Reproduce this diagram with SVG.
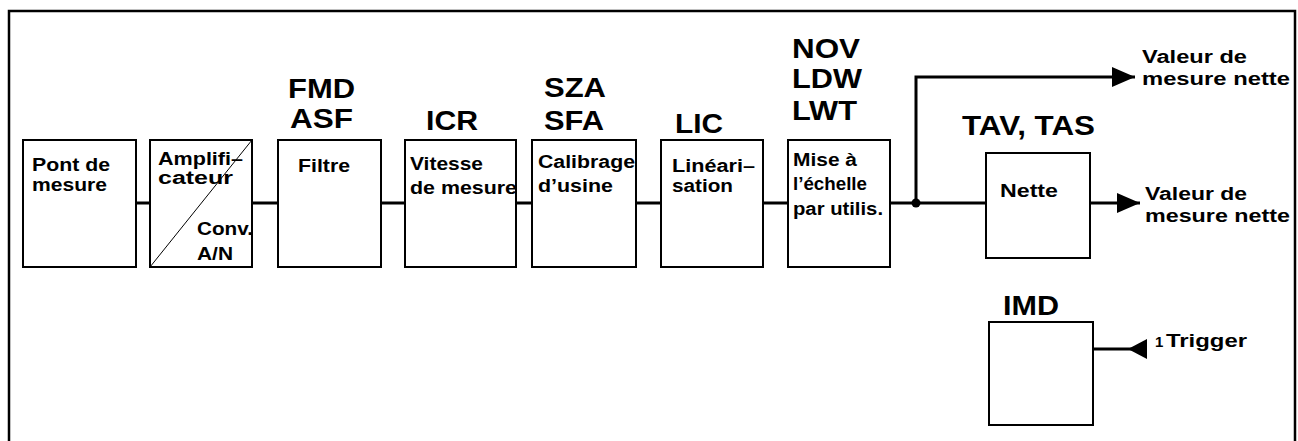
<svg xmlns="http://www.w3.org/2000/svg" width="1298" height="441" viewBox="0 0 1298 441">
<style>
text{font-family:"Liberation Sans",Arial,sans-serif;font-weight:bold;fill:#000}
.b{font-size:18px}
.h{font-size:27px}
.box{fill:#fff;stroke:#000;stroke-width:2}
.wire{fill:none;stroke:#000;stroke-width:3}
</style>
<defs>
<marker id="arr" markerUnits="userSpaceOnUse" markerWidth="26" markerHeight="22" refX="23" refY="10" orient="auto"><path d="M0,0 L23,10 L0,20 z" fill="#000"/></marker>
<marker id="arrS" markerUnits="userSpaceOnUse" markerWidth="24" markerHeight="22" refX="0" refY="10" orient="auto"><path d="M0,0 L19,10 L0,20 z" fill="#000"/></marker>
</defs>
<rect x="0" y="0" width="1298" height="441" fill="#fff"/>
<path d="M9,441 V11 H1295 V441" fill="none" stroke="#000" stroke-width="2.5"/>
<g id="connectors">
<path class="wire" d="M136,203 H150 M252,203 H278 M381,203 H405 M516,203 H532 M636,203 H661 M763,203 H788"/>
<path class="wire" d="M890,203 H986"/>
<path class="wire" d="M916,203 V77 H1135" marker-end="url(#arr)"/>
<path class="wire" d="M1090,203 H1140" marker-end="url(#arr)"/>
<path class="wire" d="M1147,349 H1093" marker-start="url(#arrS)"/>
<circle cx="916" cy="203" r="4.5" fill="#000"/>
</g>
<g id="pont">
<rect class="box" x="23" y="140" width="113" height="127"/>
<text class="b" x="32" y="171" textLength="78" lengthAdjust="spacingAndGlyphs">Pont de</text>
<text class="b" x="32" y="191" textLength="75" lengthAdjust="spacingAndGlyphs">mesure</text>
</g>
<g id="ampli">
<rect class="box" x="150" y="140" width="102" height="127"/>
<line x1="150" y1="267" x2="252" y2="140" stroke="#000" stroke-width="1"/>
<text class="b" x="158" y="165" textLength="85" lengthAdjust="spacingAndGlyphs">Amplifi–</text>
<text class="b" x="158" y="184" textLength="75" lengthAdjust="spacingAndGlyphs">cateur</text>
<text class="b" x="197" y="235" textLength="56" lengthAdjust="spacingAndGlyphs">Conv.</text>
<text class="b" x="197" y="260" textLength="36" lengthAdjust="spacingAndGlyphs">A/N</text>
</g>
<g id="filtre">
<rect class="box" x="278" y="140" width="103" height="127"/>
<text class="h" x="288" y="98" textLength="67" lengthAdjust="spacingAndGlyphs">FMD</text>
<text class="h" x="290" y="128" textLength="63" lengthAdjust="spacingAndGlyphs">ASF</text>
<text class="b" x="298" y="172" textLength="52" lengthAdjust="spacingAndGlyphs">Filtre</text>
</g>
<g id="vitesse">
<rect class="box" x="405" y="140" width="111" height="127"/>
<text class="h" x="426" y="130" textLength="52" lengthAdjust="spacingAndGlyphs">ICR</text>
<text class="b" x="410" y="170" textLength="73" lengthAdjust="spacingAndGlyphs">Vitesse</text>
<text class="b" x="410" y="194" textLength="107" lengthAdjust="spacingAndGlyphs">de mesure</text>
</g>
<g id="calib">
<rect class="box" x="532" y="140" width="104" height="127"/>
<text class="h" x="544" y="97" textLength="62" lengthAdjust="spacingAndGlyphs">SZA</text>
<text class="h" x="544" y="130" textLength="60" lengthAdjust="spacingAndGlyphs">SFA</text>
<text class="b" x="538" y="168" textLength="97" lengthAdjust="spacingAndGlyphs">Calibrage</text>
<text class="b" x="538" y="192" textLength="75" lengthAdjust="spacingAndGlyphs">d’usine</text>
</g>
<g id="lin">
<rect class="box" x="661" y="140" width="102" height="127"/>
<text class="h" x="675" y="133" textLength="48" lengthAdjust="spacingAndGlyphs">LIC</text>
<text class="b" x="672" y="172" textLength="83" lengthAdjust="spacingAndGlyphs">Linéari–</text>
<text class="b" x="672" y="192" textLength="61" lengthAdjust="spacingAndGlyphs">sation</text>
</g>
<g id="echelle">
<rect class="box" x="788" y="140" width="102" height="127"/>
<text class="h" x="792" y="58" textLength="68" lengthAdjust="spacingAndGlyphs">NOV</text>
<text class="h" x="792" y="88" textLength="70" lengthAdjust="spacingAndGlyphs">LDW</text>
<text class="h" x="792" y="120" textLength="65" lengthAdjust="spacingAndGlyphs">LWT</text>
<text class="b" x="793" y="166" textLength="64" lengthAdjust="spacingAndGlyphs">Mise à</text>
<text class="b" x="793" y="190" textLength="74" lengthAdjust="spacingAndGlyphs">l’échelle</text>
<text class="b" x="793" y="215" textLength="90" lengthAdjust="spacingAndGlyphs">par utilis.</text>
</g>
<g id="nette">
<rect class="box" x="986" y="153" width="104" height="105"/>
<text class="h" x="962" y="135" textLength="133" lengthAdjust="spacingAndGlyphs">TAV, TAS</text>
<text class="b" x="1000" y="197" textLength="58" lengthAdjust="spacingAndGlyphs">Nette</text>
</g>
<g id="out1">
<text class="b" x="1142" y="63" textLength="105" lengthAdjust="spacingAndGlyphs">Valeur de</text>
<text class="b" x="1142" y="85" textLength="148" lengthAdjust="spacingAndGlyphs">mesure nette</text>
</g>
<g id="out2">
<text class="b" x="1145" y="200" textLength="102" lengthAdjust="spacingAndGlyphs">Valeur de</text>
<text class="b" x="1145" y="222" textLength="145" lengthAdjust="spacingAndGlyphs">mesure nette</text>
</g>
<g id="imd">
<rect class="box" x="989" y="322" width="104" height="103"/>
<text class="h" x="1003" y="315" textLength="56" lengthAdjust="spacingAndGlyphs">IMD</text>
</g>
<g id="trigger">
<text x="1155" y="347" font-size="15">1</text>
<text class="b" x="1166" y="347" textLength="81" lengthAdjust="spacingAndGlyphs">Trigger</text>
</g>
</svg>
